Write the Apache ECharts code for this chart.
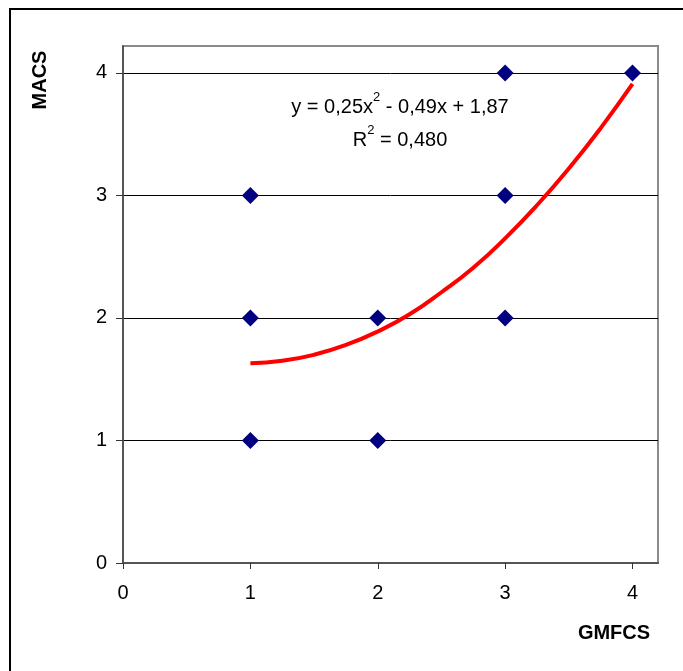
<!DOCTYPE html>
<html>
<head>
<meta charset="utf-8">
<script src="https://cdn.jsdelivr.net/npm/echarts@6/dist/echarts.min.js"></script>
<style>
html,body{margin:0;padding:0;background:#fff;}
#chart{width:683px;height:671px;}
</style>
</head>
<body>
<div id="chart"></div>
<script>
// Observed data points (GMFCS, MACS)
const gmfcs = [1, 1, 1, 2, 2, 3, 3, 3, 4];
const macs  = [1, 2, 3, 1, 2, 2, 3, 4, 4];
// Trendline
const trendX = [1, 1.25, 1.5, 1.75, 2, 2.25, 2.5, 2.75, 3, 3.25, 3.5, 3.75, 4];
const trendY = [1.63, 1.65, 1.70, 1.78, 1.89, 2.03, 2.21, 2.41, 2.65, 2.92, 3.22, 3.55, 3.91];
// Tick labels
const xTicks = [0, 1, 2, 3, 4];
const yTicks = [0, 1, 2, 3, 4];
const eqParts = ['y = 0,25x', '2', ' - 0,49x + 1,87'];
const r2Parts = ['R', '2', ' = 0,480'];
const xTitle = 'GMFCS';
const yTitle = 'MACS';

const FONT = '"Liberation Sans", Arial, sans-serif';
const chart = echarts.init(document.getElementById('chart'));

const rich = {
  n: { fontSize: 20, fontFamily: FONT, color: '#000', lineHeight: 26, verticalAlign: 'bottom' },
  s: { fontSize: 13, fontFamily: FONT, color: '#000', lineHeight: 26, verticalAlign: 'top' }
};

chart.setOption({
  animation: false,
  backgroundColor: '#fff',
  grid: {
    left: 123, top: 46, right: 25, bottom: 108,
    show: true, borderColor: '#8a8a8a', borderWidth: 2, backgroundColor: 'transparent'
  },
  xAxis: {
    type: 'value', min: 0, max: 4.2,
    axisLine: { show: true, onZero: false, lineStyle: { color: '#555', width: 2 } },
    axisTick: { show: true, length: 6, customValues: xTicks, lineStyle: { color: '#333', width: 1 } },
    axisLabel: { customValues: xTicks, fontSize: 20, fontFamily: FONT, color: '#000', margin: 20 },
    splitLine: { show: false }
  },
  yAxis: {
    type: 'value', min: 0, max: 4.22,
    axisLine: { show: true, onZero: false, lineStyle: { color: '#555', width: 2 } },
    axisTick: { show: true, length: 7, customValues: yTicks, lineStyle: { color: '#333', width: 1 } },
    axisLabel: { customValues: yTicks, fontSize: 20, fontFamily: FONT, color: '#000', margin: 16 },
    splitLine: { show: true, lineStyle: { color: '#000', width: 1 } }
  },
  series: [
    {
      type: 'line',
      data: trendX.map((x, i) => [x, trendY[i]]),
      smooth: true,
      showSymbol: false,
      lineStyle: { color: '#ff0000', width: 4 },
      z: 2
    },
    {
      type: 'scatter',
      data: gmfcs.map((x, i) => [x, macs[i]]),
      symbol: 'diamond',
      symbolSize: 17,
      itemStyle: { color: '#000080', opacity: 1 },
      z: 3
    }
  ],
  graphic: [
    {
      type: 'rect', x: 0, y: 0,
      shape: { x: 10, y: 9, width: 800, height: 800 },
      style: { fill: 'none', stroke: '#000', lineWidth: 2 },
      silent: true
    },
    {
      type: 'text', x: 400, y: 104,
      style: {
        text: '{n|' + eqParts[0] + '}{s|' + eqParts[1] + '}{n|' + eqParts[2] + '}',
        rich: rich, align: 'center', verticalAlign: 'middle'
      }
    },
    {
      type: 'text', x: 400, y: 137,
      style: {
        text: '{n|' + r2Parts[0] + '}{s|' + r2Parts[1] + '}{n|' + r2Parts[2] + '}',
        rich: rich, align: 'center', verticalAlign: 'middle'
      }
    },
    {
      type: 'text', x: 614, y: 633,
      style: { text: xTitle, font: 'bold 20px ' + FONT, fill: '#000', align: 'center', verticalAlign: 'middle' }
    },
    {
      type: 'text', x: 40, y: 80, rotation: Math.PI / 2,
      style: { text: yTitle, font: 'bold 20px ' + FONT, fill: '#000', align: 'center', verticalAlign: 'middle' }
    }
  ]
});
</script>
</body>
</html>
